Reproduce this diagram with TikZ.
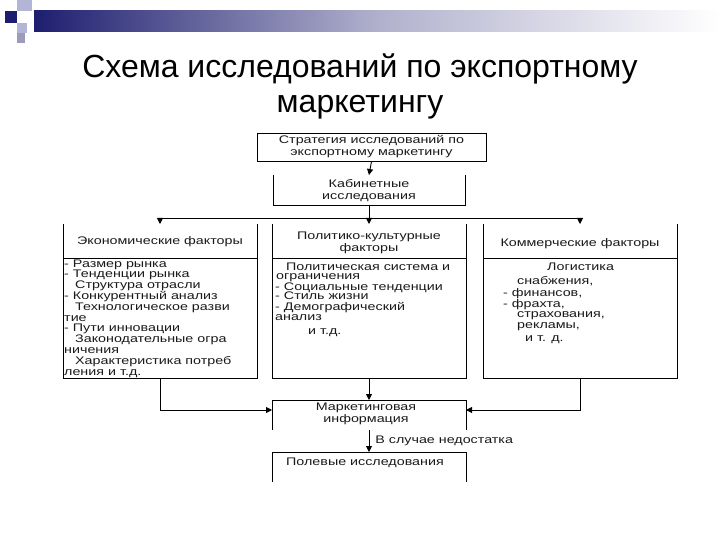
\documentclass[tikz,border=0pt]{standalone}
\usepackage{fontspec}
\setmainfont{Liberation Sans}
\newfontfamily\boxfont[FakeStretch=1.3]{Liberation Sans}
\usetikzlibrary{arrows.meta,calc}
\definecolor{navy}{HTML}{1E1E70}
\definecolor{lav}{HTML}{B4B4D6}
\definecolor{lavg}{HTML}{9C9CB8}
\definecolor{txt}{HTML}{1A1A1A}
\begin{document}
\begin{tikzpicture}[x=1pt,y=-1pt,
  frame/.style={draw=none,inner sep=0pt,outer sep=0pt},
  edge/.style={line width=0.9pt,black},
  arr/.style={edge,-{Triangle[width=6pt,length=6pt]}},
  bf/.style={font={\boxfont\fontsize{11}{12}\selectfont},text=txt},
  ln/.style={bf,anchor=base west,inner sep=0pt},
  ctext/.style={bf,align=center,inner sep=0pt}
]
\fill[white] (0,0) rectangle (720,540);
\useasboundingbox (0,0) rectangle (720,540);
% decoration
\shade[left color=navy,right color=white,middle color=navy!35] (34,11) rectangle (720,32);
\fill[navy] (5,11) rectangle (17,23);
\fill[lav] (17,0) rectangle (32,11);
\fill[lav] (17,23) rectangle (27,33);
\fill[lavg] (17,33) rectangle (25,43);
% title
\node[inner sep=0pt,anchor=base,font=\fontsize{32}{38}\selectfont] (t1) at (360,78) {Схема исследований по экспортному};
\node[inner sep=0pt,anchor=base,font=\fontsize{32}{38}\selectfont] (t2) at (360,113) {маркетингу};
% top box
\node[draw,line width=0.9pt,minimum width=229pt,minimum height=28pt,ctext] (S) at (371.5,147) {Стратегия исследований по\\экспортному маркетингу};
% cabinet research
\node[frame,minimum width=192pt,minimum height=30pt] (K) at (369,190) {};
\draw[edge] (K.north west) -- (K.south west) -- (K.south east) -- (K.north east);
\node[ctext] (Kt) at (369,191) {Кабинетные\\исследования};
\draw[arr] (S.south) -- (K.north);
% three boxes
\node[frame,minimum width=194pt,minimum height=154pt] (L) at (160,301) {};
\node[frame,minimum width=194pt,minimum height=154pt] (M) at (369,301) {};
\node[frame,minimum width=194pt,minimum height=154pt] (R) at (580,301) {};
\foreach \b in {L,M,R}{
  \draw[edge] (\b.north west) -- (\b.south west) -- (\b.south east) -- (\b.north east);
  \draw[edge] ($(\b.north west)+(0,34)$) -- ($(\b.north east)+(0,34)$);
}
\coordinate (J) at (369,218);
\draw[edge] (L.north |- J) -- (R.north |- J);
\draw[arr] (K.south) -- (M.north);
\draw[arr] (L.north |- J) -- (L.north);
\draw[arr] (R.north |- J) -- (R.north);
% headers
\node[ctext] (Lh) at (160,242) {Экономические факторы};
\node[ctext] (Mh) at (369,242.5) {Политико-культурные\\факторы};
\node[ctext] (Rh) at (580,244) {Коммерческие факторы};
% left content
\node[ln] (l1) at (64,267) {- Размер рынка};
\node[ln] (l2) at (64,277.8) {- Тенденции рынка};
\node[ln] (l3) at (75,288.6) {Структура отрасли};
\node[ln] (l4) at (64,299.4) {- Конкурентный анализ};
\node[ln] (l5) at (75,310.2) {Технологическое разви};
\node[ln] (l6) at (64,321) {тие};
\node[ln] (l7) at (64,331.8) {- Пути инновации};
\node[ln] (l8) at (75,342.6) {Законодательные огра};
\node[ln] (l9) at (64,353.4) {ничения};
\node[ln] (l10) at (75,364.2) {Характеристика потреб};
\node[ln] (l11) at (64,375) {ления и т.д.};
% middle content
\node[ln] (m1) at (286,270) {Политическая система и};
\node[ln] (m2) at (276,279.5) {ограничения};
\node[ln] (m3) at (275,290) {- Социальные тенденции};
\node[ln] (m4) at (275,299.5) {- Стиль жизни};
\node[ln] (m5) at (275,310) {- Демографический};
\node[ln] (m6) at (275,320) {анализ};
\node[ln] (m7) at (308,334) {и т.д.};
% right content
\node[ln] (r1) at (547,270) {Логистика};
\node[ln] (r2) at (517,284) {снабжения,};
\node[ln] (r3) at (503,296) {- финансов,};
\node[ln] (r4) at (503,307) {- фрахта,};
\node[ln] (r5) at (517,317) {страхования,};
\node[ln] (r6) at (517,328) {рекламы,};
\node[ln] (r7) at (525,341) {и т. д.};
% marketing information
\node[frame,minimum width=194pt,minimum height=30pt] (Mk) at (369,415) {};
\draw[edge] (Mk.south west) -- (Mk.north west) -- (Mk.north east) -- (Mk.south east);
\node[ctext] (Mkt) at (366,414) {Маркетинговая\\информация};
\draw[arr] (L.south) |- ($(Mk.west)+(0,-5)$);
\draw[arr] (R.south) |- ($(Mk.east)+(0,-5)$);
\draw[arr] (M.south) -- (Mk.north);
% field research
\node[frame,minimum width=194pt,minimum height=30pt] (P) at (369,467) {};
\draw[edge] (P.south west) -- (P.north west) -- (P.north east) -- (P.south east);
\node[ctext] (Pt) at (365,463) {Полевые исследования};
\draw[arr] (Mk.south) -- (P.north) node[midway,anchor=west,bf,inner sep=0pt,xshift=6pt] (lbl) {В случае недостатка};
\end{tikzpicture}
\end{document}
